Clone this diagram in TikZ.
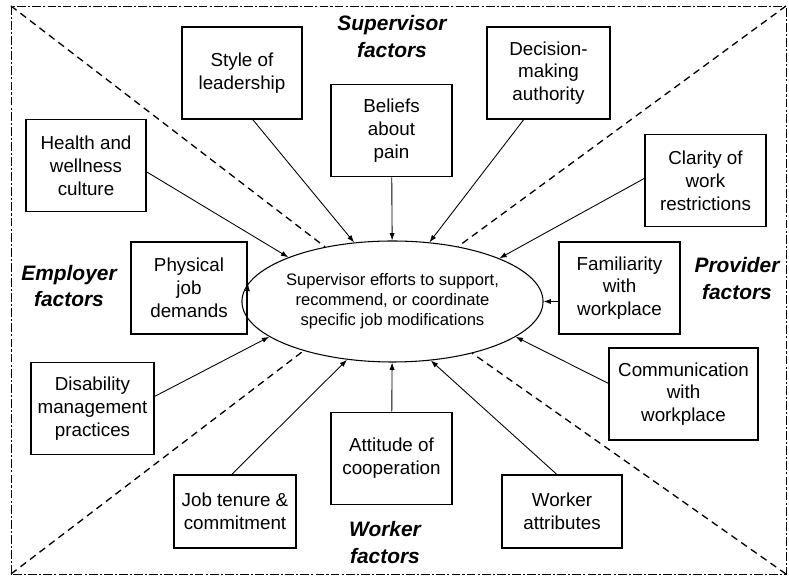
\documentclass[tikz,border=0pt]{standalone}
\usepackage{fontspec}
\setmainfont{Liberation Sans}
\usetikzlibrary{arrows,arrows.meta,positioning,shapes.geometric}
\tikzset{%
	factor/.style  = {draw, rectangle, line width=0.7pt, minimum width=2.42cm, minimum height=1.85cm, align=center, inner sep=2pt, font=\fontsize{10.7}{13}\selectfont},
	effort/.style  = {draw, ellipse, line width=0.6pt, minimum width=5.03cm, minimum height=2.42cm, inner sep=0pt, align=center, font=\fontsize{9.45}{11.3}\selectfont},
	group/.style   = {align=center, font=\fontsize{11.9}{15.3}\selectfont\bfseries\itshape},
	arrow/.style   = {line width=0.5pt, -{Latex[length=4.2pt,width=3pt]}},
	divider/.style = {line width=0.75pt, dash pattern=on 4pt off 2.8pt},
	frame/.style   = {line width=0.5pt, dash pattern=on 5pt off 1.2pt on 1.2pt off 1.2pt},
}
\begin{document}
\begin{tikzpicture}
	\useasboundingbox (0,0) rectangle (15.78,11.52);
	\draw[frame] (0.22,0.04) rectangle (15.72,11.40);  % outer frame
	\coordinate (tl) at (0.22,11.40);
	\coordinate (tr) at (15.72,11.40);
	\coordinate (bl) at (0.22,0.04);
	\coordinate (br) at (15.72,0.04);
	
	\node[effort] (eff) at (7.85,5.49) {Supervisor efforts to support,\\ recommend, or coordinate\\ specific job modifications};
	
	% dashed dividers between the groups
	\draw[divider] (tl) -- (eff.141);
	\draw[divider] (tr) -- (eff.40);
	\draw[divider] (bl) -- (eff.209);
	\draw[divider] (br) -- (eff.327);
	
	\node[group] (sup) at (7.84,10.79) {Supervisor\\ factors};
	\node[group] (emp) at (1.38,5.80) {Employer\\ factors};
	\node[group] (pro) at (14.74,5.95) {Provider\\ factors};
	\node[group] (wor) at (7.70,0.67) {Worker\\ factors};
	
	% supervisor
	\node[factor, minimum width=2.4cm, minimum height=1.84cm] (style) at (4.84,10.06) {Style of\\ leadership};
	\node[factor] (belief) at (7.83,8.91) {Beliefs\\ about\\ pain};
	\node[factor, minimum width=2.46cm, minimum height=1.84cm] (decision) at (10.97,10.06) {Decision-\\ making\\ authority};
	% employer
	\node[factor, minimum width=2.4cm] (health) at (1.72,8.21) {Health and\\ wellness\\ culture};
	\node[factor, minimum width=2.32cm, minimum height=1.84cm] (physical) at (3.78,5.76) {Physical\\ job\\ demands};
	\node[factor, minimum width=2.46cm] (disability) at (1.85,3.35) {Disability\\ management\\ practices};
	% provider
	\node[factor] (clarity) at (14.11,7.91) {Clarity of\\ work\\ restrictions};
	\node[factor, minimum height=1.84cm] (familiar) at (12.39,5.76) {Familiarity\\ with\\ workplace};
	\node[factor, minimum width=2.98cm, minimum height=1.84cm] (commun) at (13.67,3.64) {Communication\\ with\\ workplace};
	% worker
	\node[factor, minimum width=2.44cm, minimum height=1.46cm] (tenure) at (4.70,1.29) {Job tenure \&\\ commitment};
	\node[factor] (attitude) at (7.83,2.35) {Attitude of\\ cooperation};
	\node[factor, minimum width=2.4cm, minimum height=1.46cm] (attrib) at (11.24,1.29) {Worker\\ attributes};
	
	\draw[arrow] (style.283) -- (eff.123);
	\draw[arrow] (belief) -- (eff);
	\draw[arrow] (decision.242) -- (eff.58);
	\draw[arrow] (health.354) -- (eff.157);
	\draw[arrow] (physical.east) -- (eff.173);
	\draw[arrow] (disability.11) -- (eff.196);
	\draw[arrow] (clarity.178) -- (eff.22);
	\draw[arrow] (familiar.west |- eff.east) -- (eff.east);
	\draw[arrow] (commun.172) -- (eff.344);
	\draw[arrow] (tenure.95) -- (eff.232);
	\draw[arrow] (attitude) -- (eff);
	\draw[arrow] (attrib.98) -- (eff.303);
\end{tikzpicture}
\end{document}
